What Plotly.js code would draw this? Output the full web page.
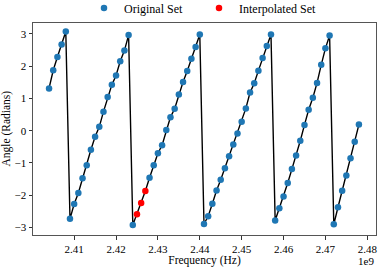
<!DOCTYPE html>
<html>
<head>
<meta charset="utf-8">
<script src="https://cdn.plot.ly/plotly-3.0.1.min.js"></script>
<style>html,body{margin:0;padding:0;background:#fff;}#chart{width:381px;height:267px;}</style>
</head>
<body>
<div id="chart"></div>
<script>
// Original measured set (Hz, radians)
const originalFreq = [
  2.404e9, 2.405e9, 2.406e9, 2.407e9, 2.408e9,
  2.409e9, 2.410e9, 2.411e9, 2.412e9, 2.413e9, 2.414e9, 2.415e9, 2.416e9, 2.417e9, 2.418e9, 2.419e9, 2.420e9, 2.421e9, 2.422e9, 2.423e9,
  2.424e9, 2.428e9, 2.429e9, 2.430e9, 2.431e9, 2.432e9, 2.433e9, 2.434e9, 2.435e9, 2.436e9, 2.437e9, 2.438e9, 2.439e9, 2.440e9,
  2.441e9, 2.442e9, 2.443e9, 2.444e9, 2.445e9, 2.446e9, 2.447e9, 2.448e9, 2.449e9, 2.450e9, 2.451e9, 2.452e9, 2.453e9, 2.454e9, 2.455e9, 2.456e9, 2.457e9,
  2.458e9, 2.459e9, 2.460e9, 2.461e9, 2.462e9, 2.463e9, 2.464e9, 2.465e9, 2.466e9, 2.467e9, 2.468e9, 2.469e9, 2.470e9, 2.471e9,
  2.472e9, 2.473e9, 2.474e9, 2.475e9, 2.476e9, 2.477e9, 2.478e9
];
const originalAngle = [
  1.31, 1.87, 2.28, 2.67, 3.07,
  -2.73, -2.27, -1.93, -1.47, -1.07, -0.59, -0.19, 0.12, 0.59, 1.04, 1.42, 1.71, 2.15, 2.48, 2.96,
  -2.92, -1.46, -1.07, -0.70, -0.45, 0.02, 0.42, 0.68, 1.12, 1.51, 1.85, 2.23, 2.59, 2.98,
  -2.89, -2.65, -2.26, -1.85, -1.52, -1.16, -0.79, -0.43, -0.09, 0.28, 0.69, 1.18, 1.47, 1.86, 2.25, 2.62, 2.98,
  -2.78, -2.40, -2.04, -1.62, -1.19, -0.77, -0.31, 0.18, 0.65, 1.02, 1.48, 2.04, 2.55, 2.95,
  -2.90, -2.37, -1.86, -1.39, -0.85, -0.34, 0.19
];
// Interpolated set
const interpFreq = [2.425e9, 2.426e9, 2.427e9];
const interpAngle = [-2.59, -2.24, -1.87];

// Tick labels
const xTickVals = [2.41e9, 2.42e9, 2.43e9, 2.44e9, 2.45e9, 2.46e9, 2.47e9, 2.48e9];
const xTickText = ["2.41", "2.42", "2.43", "2.44", "2.45", "2.46", "2.47", "2.48"];
const yTickVals = [-3, -2, -1, 0, 1, 2, 3];
const yTickText = ["\u22123", "\u22122", "\u22121", "0", "1", "2", "3"];

// Combined line through all points, sorted by frequency
const combined = originalFreq.map((f, i) => [f, originalAngle[i]])
  .concat(interpFreq.map((f, i) => [f, interpAngle[i]]))
  .sort((a, b) => a[0] - b[0]);

const FAM = 'Liberation Serif, Times New Roman, serif';
const tickFont = {family: FAM, size: 11, color: '#000'};
const titleFont = {family: FAM, size: 11.5, color: '#000'};
const legendFont = {family: FAM, size: 12, color: '#000'};

const traces = [
  {x: combined.map(p => p[0]), y: combined.map(p => p[1]), mode: 'lines', type: 'scatter',
   line: {color: '#000', width: 1.4}, showlegend: false, hoverinfo: 'skip'},
  {x: originalFreq, y: originalAngle, mode: 'markers', type: 'scatter', name: 'Original Set',
   marker: {color: '#1f77b4', size: 6.5}, legend: 'legend'},
  {x: interpFreq, y: interpAngle, mode: 'markers', type: 'scatter', name: 'Interpolated Set',
   marker: {color: '#ff0000', size: 6.5}, legend: 'legend2'}
];

const legendBase = {orientation: 'h', xref: 'container', yref: 'container', xanchor: 'left',
                    y: 0.97, yanchor: 'middle', font: legendFont, bgcolor: 'rgba(0,0,0,0)',
                    borderwidth: 0};

const layout = {
  width: 381, height: 267,
  margin: {l: 33, r: 5, t: 22, b: 32},
  paper_bgcolor: '#fff', plot_bgcolor: '#fff',
  font: tickFont,
  showlegend: true,
  legend: Object.assign({}, legendBase, {x: 84 / 381}),
  legend2: Object.assign({}, legendBase, {x: 199 / 381}),
  xaxis: {
    range: [2.40017e9, 2.48208e9], tickmode: 'array', tickvals: xTickVals, ticktext: xTickText,
    showgrid: false, zeroline: false, showline: true, mirror: true, linecolor: '#555', linewidth: 1,
    ticks: 'outside', ticklen: 3.5, tickwidth: 1, tickcolor: '#333', tickfont: tickFont,
    title: {text: 'Frequency (Hz)', font: titleFont, standoff: 4}
  },
  yaxis: {
    range: [-3.23, 3.35], tickmode: 'array', tickvals: yTickVals, ticktext: yTickText,
    showgrid: false, zeroline: false, showline: true, mirror: true, linecolor: '#555', linewidth: 1,
    ticks: 'outside', ticklen: 3.5, tickwidth: 1, tickcolor: '#333', tickfont: tickFont,
    title: {text: 'Angle (Radians)', font: titleFont, standoff: 5}
  },
  annotations: [
    {text: '1e9', xref: 'paper', yref: 'paper', x: 1.0, y: -0.087, xanchor: 'right', yanchor: 'top',
     showarrow: false, font: tickFont}
  ]
};

Plotly.newPlot('chart', traces, layout, {displayModeBar: false, staticPlot: true});
</script>
</body>
</html>
